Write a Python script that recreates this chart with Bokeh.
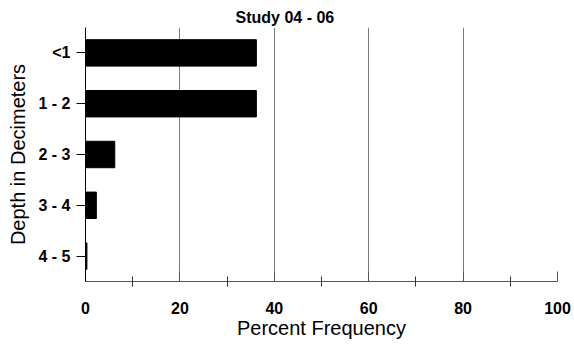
from bokeh.plotting import figure
from bokeh.models import FactorRange, Range1d, FixedTicker, Grid
from bokeh.embed import file_html
from bokeh.resources import INLINE

categories = ["<1", "1 - 2", "2 - 3", "3 - 4", "4 - 5"]
percent = [36.2, 36.2, 6.2, 2.3, 0.3]
x_ticks = [0, 20, 40, 60, 80, 100]
x_minor = [10, 30, 50, 70, 90]
grid_ticks = [20, 40, 60, 80]
title_text = "Study 04 - 06"

p = figure(width=574, height=347, output_backend="svg", toolbar_location=None,
           y_range=FactorRange(factors=categories[::-1], range_padding=0),
           x_range=Range1d(0, 100),
           min_border_left=85, min_border_right=17, min_border_top=27, min_border_bottom=66)

p.hbar(y=categories, right=percent, left=0, height=0.52, fill_color="black", line_color="black")

p.title.text = title_text
p.title.text_font = "Liberation Sans"
p.title.text_font_size = "16px"
p.title.text_font_style = "bold"
p.title.text_color = "black"
p.title.align = "left"
p.title.offset = 150
p.title.standoff = 3

p.outline_line_color = None
p.background_fill_color = "white"
p.border_fill_color = "white"

xa = p.xaxis[0]
xa.ticker = FixedTicker(ticks=x_ticks, minor_ticks=x_minor)
xa.major_tick_in = 10
xa.major_tick_out = 0
xa.minor_tick_in = 5
xa.minor_tick_out = 5
xa.major_tick_line_color = "#555555"
xa.minor_tick_line_color = "#333333"
xa.axis_line_color = "#555555"
xa.major_label_text_font = "Liberation Sans"
xa.major_label_text_font_style = "bold"
xa.major_label_text_font_size = "16px"
xa.major_label_text_color = "black"
xa.major_label_standoff = 15
xa.axis_label = "Percent Frequency"
xa.axis_label_text_font = "Liberation Sans"
xa.axis_label_text_font_style = "normal"
xa.axis_label_text_font_size = "20px"
xa.axis_label_text_color = "black"
xa.axis_label_standoff = 0

ya = p.yaxis[0]
ya.major_tick_in = 0
ya.major_tick_out = 9
ya.major_tick_line_color = "black"
ya.axis_line_color = "black"
ya.major_label_text_font = "Liberation Sans"
ya.major_label_text_font_style = "bold"
ya.major_label_text_font_size = "16px"
ya.major_label_text_color = "black"
ya.major_label_standoff = 6
ya.axis_label = "Depth in Decimeters"
ya.axis_label_text_font = "Liberation Sans"
ya.axis_label_text_font_style = "normal"
ya.axis_label_text_font_size = "20px"
ya.axis_label_text_color = "black"
ya.axis_label_standoff = 6

p.xgrid.ticker = FixedTicker(ticks=grid_ticks)
p.xgrid.grid_line_color = "#7a7a7a"
p.xgrid.grid_line_width = 1
p.ygrid.grid_line_color = None
p.add_layout(Grid(dimension=0, ticker=FixedTicker(ticks=[100]), grid_line_color="black"))

open("out.html", "w").write(file_html(p, INLINE))
